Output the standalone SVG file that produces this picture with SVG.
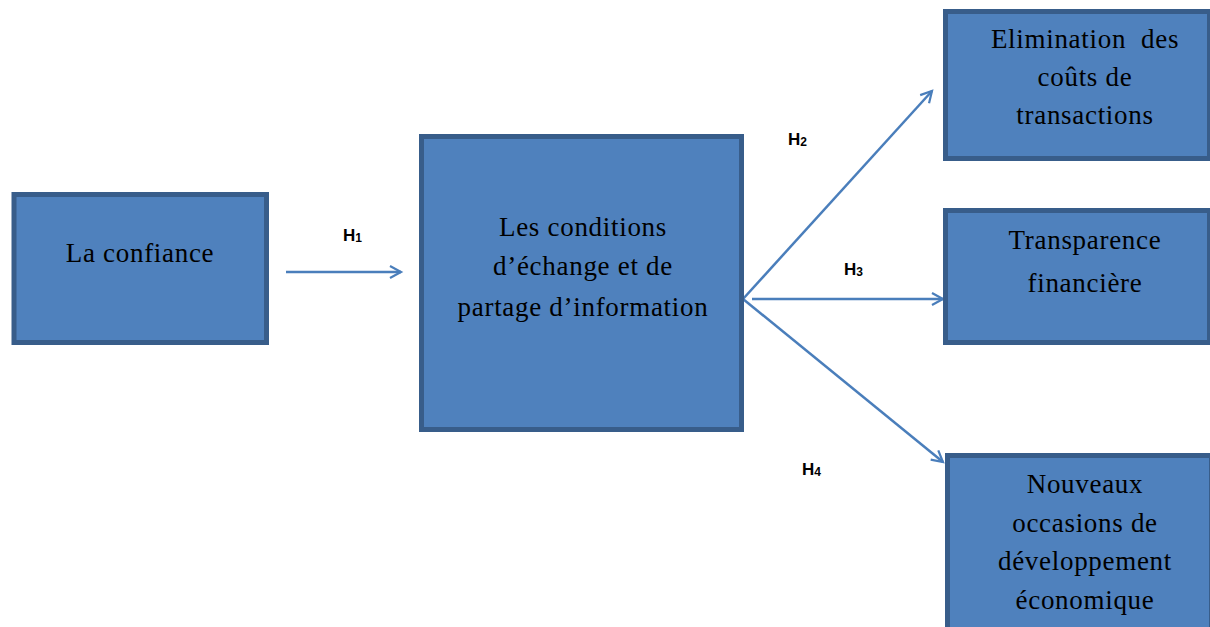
<svg xmlns="http://www.w3.org/2000/svg" width="1210" height="627" viewBox="0 0 1210 627">
<style>
.box{fill:#4f81bd;stroke:#385d8a;stroke-width:5}
.t{font-family:"Liberation Serif","Times New Roman",serif;font-size:27px;letter-spacing:0.7px;fill:#000;text-anchor:middle;white-space:pre}
.h{font-family:"Liberation Sans",Arial,sans-serif;font-size:17px;font-weight:bold;fill:#000}
.h tspan{font-size:12px}
.c{stroke:#4a7ebb;stroke-width:2.5;fill:none;marker-end:url(#arr)}
</style>
<defs>
<marker id="arr" markerUnits="userSpaceOnUse" markerWidth="16" markerHeight="16" refX="12" refY="7" orient="auto" viewBox="0 0 16 14">
<path d="M1,1 L12,7 L1,13" fill="none" stroke="#4a7ebb" stroke-width="2.2"/>
</marker>
</defs>
<rect width="1210" height="627" fill="#fff"/>
<g id="connectors">
<line class="c" x1="286" y1="272" x2="401" y2="272"/>
<line class="c" x1="743" y1="299" x2="932" y2="91"/>
<line class="c" x1="752" y1="299" x2="943" y2="299"/>
<line class="c" x1="743" y1="299" x2="943" y2="462"/>
<text class="h" x="343" y="241">H<tspan dy="1">1</tspan></text>
<text class="h" x="788" y="145">H<tspan dy="1">2</tspan></text>
<text class="h" x="844" y="275">H<tspan dy="1">3</tspan></text>
<text class="h" x="802" y="475">H<tspan dy="1">4</tspan></text>
</g>
<g id="confiance">
<rect class="box" x="14" y="194.5" width="252.5" height="148"/>
<text class="t" x="140" y="262">La confiance</text>
</g>
<g id="conditions">
<rect class="box" x="421.5" y="136.5" width="320" height="293"/>
<text class="t" x="583" y="236">Les conditions</text>
<text class="t" x="583" y="275">d’échange et de</text>
<text class="t" x="583" y="316">partage d’information</text>
</g>
<g id="elimination">
<rect class="box" x="945.5" y="11.5" width="264" height="147"/>
<text class="t" x="1085" y="48" xml:space="preserve">Elimination  des</text>
<text class="t" x="1085" y="86">coûts de</text>
<text class="t" x="1085" y="124">transactions</text>
</g>
<g id="transparence">
<rect class="box" x="945.5" y="210.5" width="264" height="132"/>
<text class="t" x="1085" y="249">Transparence</text>
<text class="t" x="1085" y="292">financière</text>
</g>
<g id="nouveaux">
<rect class="box" x="947.5" y="455.5" width="264" height="180"/>
<text class="t" x="1085" y="493">Nouveaux</text>
<text class="t" x="1085" y="532">occasions de</text>
<text class="t" x="1085" y="570">développement</text>
<text class="t" x="1085" y="609">économique</text>
</g>
</svg>
